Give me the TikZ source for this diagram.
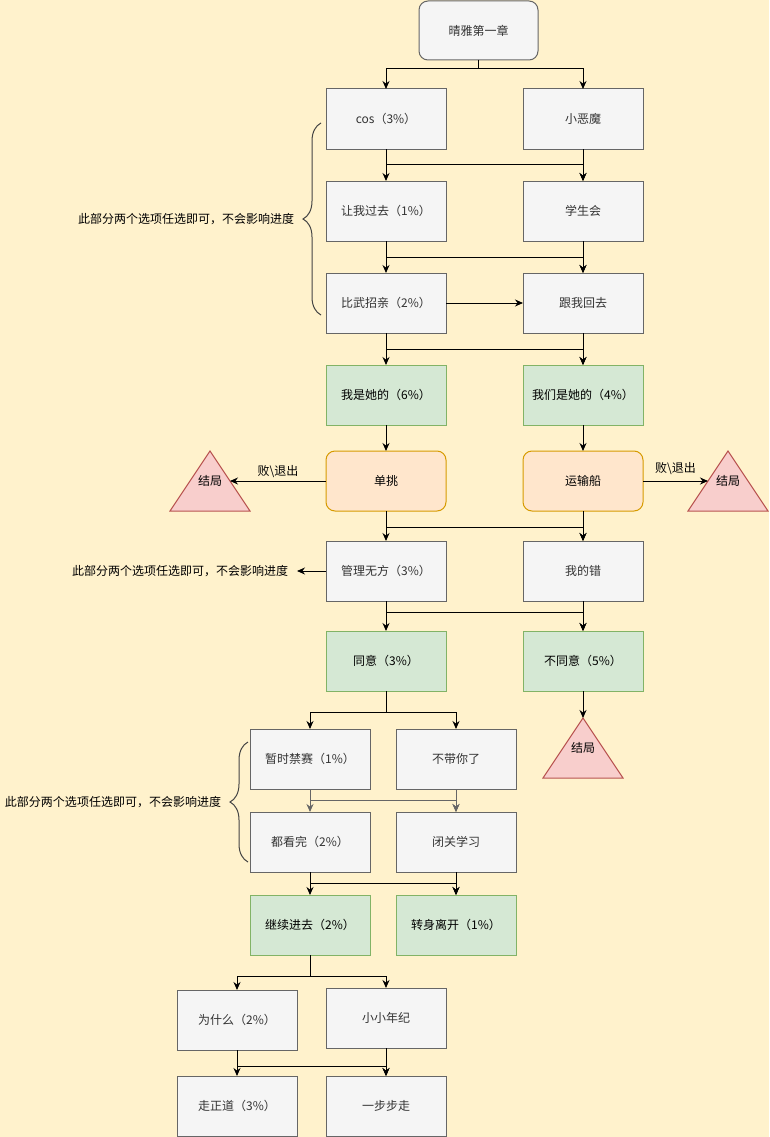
\documentclass[tikz,border=0pt]{standalone}
\usepackage{fontspec}
\setmainfont{Noto Sans CJK SC}
\usepackage{xcolor}
\usepackage{tikz}
\usetikzlibrary{positioning,calc,arrows.meta,decorations.pathreplacing}

\definecolor{bgyellow}{HTML}{FFF2CC}
\definecolor{boxfill}{HTML}{F5F5F5}
\definecolor{boxline}{HTML}{666666}
\definecolor{boxtext}{HTML}{333333}
\definecolor{greenfill}{HTML}{D5E8D4}
\definecolor{greenline}{HTML}{82B366}
\definecolor{orangefill}{HTML}{FFE6CC}
\definecolor{orangeline}{HTML}{D79B00}
\definecolor{redfill}{HTML}{F8CECC}
\definecolor{redline}{HTML}{B85450}
\definecolor{arrgray}{HTML}{666666}
\definecolor{braceline}{HTML}{444444}

\begin{document}
\begin{tikzpicture}[x=1pt, y=1pt, node distance=32pt and 77pt,
    font=\fontsize{12pt}{14pt}\selectfont,
    plainbox/.style={draw=boxline, fill=boxfill, text=boxtext, rectangle, minimum width=120pt, minimum height=60pt, inner sep=0pt, outer sep=0pt, line width=1pt},
    greenbox/.style={plainbox, draw=greenline, fill=greenfill, text=black},
    orangebox/.style={plainbox, rounded corners=9pt, draw=orangeline, fill=orangefill, text=black},
    startbox/.style={plainbox, rounded corners=9pt, minimum width=119pt, minimum height=59pt},
    endslot/.style={minimum width=80pt, minimum height=60pt, inner sep=0pt, outer sep=0pt},
    endtri/.style={draw=redline, fill=redfill, line width=1pt},
    endtext/.style={inner sep=0pt},
    arr/.style={-{Stealth[length=8pt,width=7pt]}, line width=1pt},
    grayarr/.style={arr, draw=arrgray, color=arrgray},
    notetext/.style={inner sep=0pt, outer sep=9pt},
    losstext/.style={inner sep=0pt},
    bracket/.style={decorate, decoration={brace, amplitude=18pt}, draw=braceline, line width=1pt}]

    \fill[bgyellow] (0,0) rectangle (769,-1137);
    \useasboundingbox (0,0) rectangle (769,-1137);

    % first chapter
    \node [startbox] (start) at (478.5,-30.5) {晴雅第一章};
    \node [plainbox] (cos) at (386,-119) {cos（3\%）};
    \node [plainbox, right=of cos] (imp) {小恶魔};
    \node [plainbox, below=of cos] (letgo) {让我过去（1\%）};
    \node [plainbox, below=of imp] (council) {学生会};
    \node [plainbox, below=of letgo] (contest) {比武招亲（2\%）};
    \node [plainbox, below=of council] (goback) {跟我回去};
    \node [greenbox, below=of contest] (mine) {我是她的（6\%）};
    \node [greenbox, below=of goback] (ours) {我们是她的（4\%）};
    \node [orangebox, below=26pt of mine] (duel) {单挑};
    \node [orangebox, below=26pt of ours] (ship) {运输船};
    \node [endslot, left=76pt of duel] (endA) {};
    \node [endslot, right=45pt of ship] (endB) {};
    \node [plainbox, below=30pt of duel] (manage) {管理无方（3\%）};
    \node [plainbox, below=30pt of ship] (myfault) {我的错};
    \node [greenbox, below=30pt of manage] (agree) {同意（3\%）};
    \node [greenbox, below=30pt of myfault] (disagree) {不同意（5\%）};
    \node [endslot, below=27pt of disagree] (endC) {};
    \node [plainbox, below=38pt of agree, xshift=-76pt] (ban) {暂时禁赛（1\%）};
    \node [plainbox, right=26pt of ban] (nocarry) {不带你了};
    \node [plainbox, below=23pt of ban] (watch) {都看完（2\%）};
    \node [plainbox, below=23pt of nocarry] (study) {闭关学习};
    \node [greenbox, below=23pt of watch] (goin) {继续进去（2\%）};
    \node [greenbox, below=23pt of study] (leave) {转身离开（1\%）};
    \node [plainbox, below=35pt of goin, xshift=-73pt] (why) {为什么（2\%）};
    \node [plainbox, right=29pt of why, yshift=2pt] (young) {小小年纪};
    \node [plainbox, below=26pt of why] (upright) {走正道（3\%）};
    \node [plainbox, right=29pt of upright] (steps) {一步步走};

    % endings
    \draw [endtri] (endA.south west) -- (endA.south east) -- (endA.north) -- cycle;
    \draw [endtri] (endB.south west) -- (endB.south east) -- (endB.north) -- cycle;
    \draw [endtri] (endC.south west) -- (endC.south east) -- (endC.north) -- cycle;
    \node [endtext] (endAtext) at (endA) {结局};
    \node [endtext] (endBtext) at (endB) {结局};
    \node [endtext] (endCtext) at (endC) {结局};
    \coordinate (hitA) at ($(endA.center)!0.5!(endA.east)$);
    \coordinate (hitB) at ($(endB.center)!0.5!(endB.west)$);

    % notes
    \coordinate (braceAtop) at ($(cos.west)+(-5,-4)$);
    \coordinate (braceAbot) at ($(contest.west)+(-5,-12)$);
    \coordinate (tipA) at ($(braceAbot)!0.5!(braceAtop)+(-18,0)$);
    \draw [bracket] (braceAbot) -- (braceAtop);
    \node [notetext, anchor=east] (noteA) at (tipA) {此部分两个选项任选即可，不会影响进度};
    \coordinate (braceBtop) at ($(ban.west)+(-2,17)$);
    \coordinate (braceBbot) at ($(watch.west)+(-2,-20)$);
    \coordinate (tipB) at ($(braceBbot)!0.5!(braceBtop)+(-18,0)$);
    \draw [bracket] (braceBbot) -- (braceBtop);
    \node [notetext, anchor=east] (noteB) at (tipB) {此部分两个选项任选即可，不会影响进度};
    \node [notetext, left=29pt of manage] (noteC) {此部分两个选项任选即可，不会影响进度};

    \draw [arr] (start.south) -- ++(0,-9) -| (cos.north);
    \draw [arr] (start.south) -- ++(0,-9) -| (imp.north);
    \draw [arr] (cos) -- (letgo);
    \draw [arr] (cos.south) -- ++(0,-15) -| (council.north);
    \draw [arr] (imp) -- (council);
    \draw [arr] (letgo) -- (contest);
    \draw [arr] (letgo.south) -- ++(0,-16) -| (goback.north);
    \draw [arr] (council) -- (goback);
    \draw [arr] (contest) -- (goback);
    \draw [arr] (contest) -- (mine);
    \draw [arr] (contest.south) -- ++(0,-16) -| (ours.north);
    \draw [arr] (goback) -- (ours);
    \draw [arr] (mine) -- (duel);
    \draw [arr] (ours) -- (ship);
    \draw [arr] (duel) -- node [losstext, above=3pt] (lossA) {败\textbackslash 退出} (hitA);
    \draw [arr] (ship) -- node [losstext, above=6pt] (lossB) {败\textbackslash 退出} (hitB);
    \draw [arr] (duel) -- (manage);
    \draw [arr] (duel.south) -- ++(0,-16) -| (myfault.north);
    \draw [arr] (ship) -- (myfault);
    \draw [arr] (manage) -- (noteC);
    \draw [arr] (manage) -- (agree);
    \draw [arr] (manage.south) -- ++(0,-11) -| (disagree.north);
    \draw [arr] (myfault) -- (disagree);
    \draw [arr] (disagree) -- (endC.north);
    \draw [arr] (agree.south) -- ++(0,-21) -| (ban.north);
    \draw [arr] (agree.south) -- ++(0,-21) -| (nocarry.north);
    \draw [grayarr] (ban) -- (watch);
    \draw [grayarr] (ban.south) -- ++(0,-11) -| (study.north);
    \draw [grayarr] (nocarry) -- (study);
    \draw [arr] (watch) -- (goin);
    \draw [arr] (watch.south) -- ++(0,-11) -| (leave.north);
    \draw [arr] (study) -- (leave);
    \draw [arr] (goin.south) -- ++(0,-21) -| (why.north);
    \draw [arr] (goin.south) -- ++(0,-21) -| (young.north);
    \draw [arr] (why) -- (upright);
    \draw [arr] (why.south) -- ++(0,-16) -| (steps.north);
    \draw [arr] (young) -- (steps);

\end{tikzpicture}
\end{document}
